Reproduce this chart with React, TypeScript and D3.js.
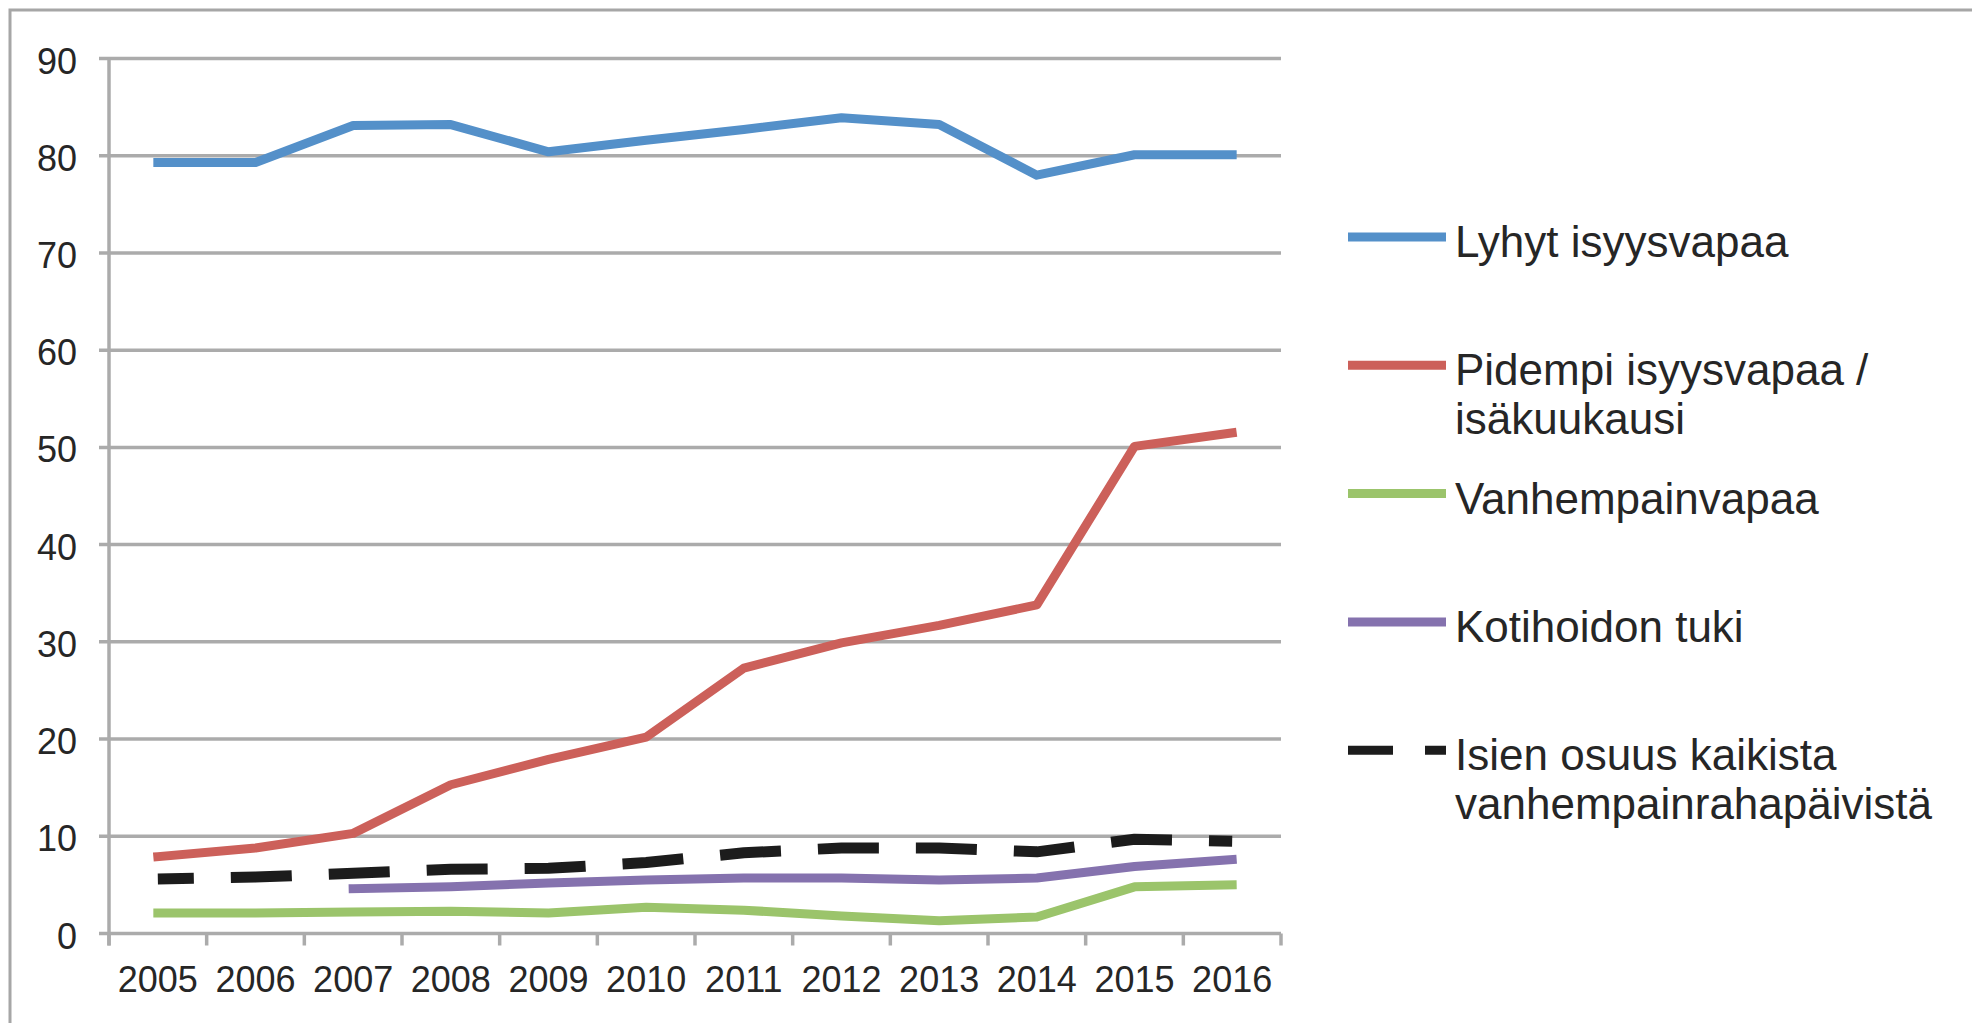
import React from "react";
import * as d3 from "d3";

// categories
const years = ["2005", "2006", "2007", "2008", "2009", "2010", "2011", "2012", "2013", "2014", "2015", "2016"];

// series values (%)
const lyhytIsyysvapaa = [79.3, 79.3, 83.1, 83.2, 80.4, 81.6, 82.7, 83.9, 83.2, 78.0, 80.1, 80.1];
const pidempiIsyysvapaa = [7.9, 8.8, 10.3, 15.3, 17.9, 20.2, 27.3, 29.9, 31.7, 33.8, 50.1, 51.5];
const vanhempainvapaa = [2.1, 2.1, 2.2, 2.3, 2.1, 2.7, 2.4, 1.8, 1.3, 1.7, 4.8, 5.0];
const kotihoidonTuki = [null, null, 4.6, 4.8, 5.2, 5.5, 5.7, 5.7, 5.5, 5.7, 6.9, 7.6];
const isienOsuus = [5.6, 5.8, 6.2, 6.6, 6.7, 7.3, 8.3, 8.8, 8.8, 8.4, 9.7, 9.5];

const yTicks = [0, 10, 20, 30, 40, 50, 60, 70, 80, 90];

const series = [
  { label: ["Lyhyt isyysvapaa"], values: lyhytIsyysvapaa, color: "#5490c9", dashed: false },
  { label: ["Pidempi isyysvapaa /", "isäkuukausi"], values: pidempiIsyysvapaa, color: "#cc605a", dashed: false },
  { label: ["Vanhempainvapaa"], values: vanhempainvapaa, color: "#9bc46b", dashed: false },
  { label: ["Kotihoidon tuki"], values: kotihoidonTuki, color: "#8572ae", dashed: false },
  { label: ["Isien osuus kaikista", "vanhempainrahapäivistä"], values: isienOsuus, color: "#1c1c1c", dashed: true },
];

const W = 1972;
const H = 1023;
const margin = { left: 109, right: 1281, top: 58.5, bottom: 933.5 };
const gridColor = "#ababab";
const textColor = "#262626";
const font = "'Liberation Sans', Arial, sans-serif";

export default function App() {
  const x = d3.scaleBand().domain(years).range([margin.left, margin.right]).padding(0);
  const y = d3.scaleLinear().domain([0, 90]).range([margin.bottom, margin.top]);
  const cx = (d: string) => (x(d) as number) + x.bandwidth() / 2;

  const line = d3
    .line<number | null>()
    .defined((d) => d !== null)
    .x((_, i) => cx(years[i]))
    .y((d) => y(d as number));

  // tick marks under the x axis sit on the band edges
  const xTickPos = years.map((d) => x(d) as number).concat([margin.right]);

  const legendX = 1348;
  const legendTop = 237;
  const legendStep = 128.3;

  return (
    <svg width={W} height={H} style={{ position: "absolute", left: 0, top: 0, background: "#fff" }}>
      {/* outer frame */}
      <rect x={10} y={10} width={2100} height={1200} fill="none" stroke="#a6a6a6" strokeWidth={3} />

      {/* gridlines */}
      {yTicks.map((t) => (
        <line key={t} x1={99} x2={margin.right} y1={y(t)} y2={y(t)} stroke={gridColor} strokeWidth={3.5} />
      ))}

      {/* y axis */}
      <line x1={margin.left} x2={margin.left} y1={margin.top} y2={margin.bottom + 12} stroke={gridColor} strokeWidth={3.5} />
      {xTickPos.map((p, i) => (
        <line key={i} x1={p} x2={p} y1={margin.bottom} y2={margin.bottom + 12} stroke={gridColor} strokeWidth={3.5} />
      ))}

      {/* y labels */}
      {yTicks.map((t) => (
        <text key={t} x={77} y={y(t) + 15} textAnchor="end" fontFamily={font} fontSize={36} fill={textColor}>
          {t}
        </text>
      ))}

      {/* x labels */}
      {years.map((d) => (
        <text key={d} x={cx(d)} y={992} textAnchor="middle" fontFamily={font} fontSize={36} fill={textColor}>
          {d}
        </text>
      ))}

      {/* series */}
      {series.map((s, i) => (
        <path
          key={i}
          d={line(s.values) || ""}
          fill="none"
          stroke={s.color}
          strokeWidth={s.dashed ? 11 : 9}
          strokeLinecap={s.dashed ? "butt" : "square"}
          strokeLinejoin="round"
          strokeDasharray={s.dashed ? "61 37" : undefined}
          strokeDashoffset={s.dashed ? 25 : undefined}
        />
      ))}

      {/* legend */}
      {series.map((s, i) => {
        const ly = legendTop + i * legendStep;
        return (
          <g key={i}>
            <line
              x1={legendX}
              x2={legendX + 98}
              y1={ly}
              y2={ly}
              stroke={s.color}
              strokeWidth={9}
              strokeDasharray={s.dashed ? "45 32" : undefined}
            />
            {s.label.map((l, j) => (
              <text key={j} x={1455} y={ly + 20 + j * 49} fontFamily={font} fontSize={44} fill={textColor}>
                {l}
              </text>
            ))}
          </g>
        );
      })}
    </svg>
  );
}
